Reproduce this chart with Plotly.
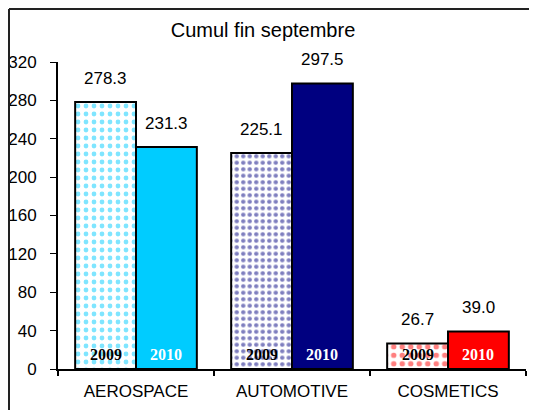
import plotly.graph_objects as go

categories = ["AEROSPACE", "AUTOMOTIVE", "COSMETICS"]
values_2009 = [278.3, 225.1, 26.7]
values_2010 = [231.3, 297.5, 39.0]
series_names = ["2009", "2010"]
colors = ["#00CCFF", "#000080", "#FF0000"]
title_text = "Cumul fin septembre"
y_ticks = [0, 40, 80, 120, 160, 200, 240, 280, 320]

W, H = 521, 402
L, R, T, B = 50, 3, 54, 41
PW, PH = W - L - R, H - T - B

fig = go.Figure()
fig.add_trace(go.Bar(
    x=categories, y=values_2009, name=series_names[0],
    marker=dict(color="white",
                line=dict(color="black", width=2),
                pattern=dict(shape=".", fgcolor=colors, bgcolor="white",
                             size=[8, 6.5, 8.5], solidity=[0.28, 0.36, 0.32],
                             fillmode="overlay")),
    offsetgroup="a", showlegend=False, hoverinfo="skip",
))
fig.add_trace(go.Bar(
    x=categories, y=values_2010, name=series_names[1],
    marker=dict(color=colors, line=dict(color="black", width=2)),
    offsetgroup="b", showlegend=False, hoverinfo="skip",
))

for i, c in enumerate(categories):
    for j, (vals, xs) in enumerate([(values_2009, -0.195), (values_2010, 0.195)]):
        fig.add_annotation(x=i + xs, y=vals[i], xref="x", yref="y",
                           text=f"{vals[i]:.1f}", showarrow=False,
                           yanchor="middle", yshift=24,
                           font=dict(family="Arial, Liberation Sans", size=17, color="black"))
        fig.add_annotation(x=i + xs, y=0, xref="x", yref="y",
                           text=f"<b>{series_names[j]}</b>", showarrow=False,
                           yanchor="middle", yshift=15,
                           font=dict(family="Times New Roman, Liberation Serif", size=16,
                                     color="black" if j == 0 else "white"))

fig.update_layout(
    width=W, height=H,
    margin=dict(l=L, r=R, t=T, b=B, pad=0),
    paper_bgcolor="white", plot_bgcolor="white",
    barmode="group", bargap=0.22, bargroupgap=0,
    title=dict(text=title_text, xref="paper", x=(255 - L) / PW, xanchor="center",
               yref="container", y=1 - 22 / H, yanchor="middle",
               font=dict(family="Arial, Liberation Sans", size=20, color="black")),
    font=dict(family="Arial, Liberation Sans", color="black"),
    xaxis=dict(type="category", showgrid=False, showline=True, linecolor="black", linewidth=2,
               ticks="outside", tickson="boundaries", ticklen=5, tickwidth=2, tickcolor="black",
               ticklabelstandoff=6, automargin=False,
               tickfont=dict(size=17, family="Arial, Liberation Sans")),
    yaxis=dict(range=[0, 320], tickvals=y_ticks, showgrid=False, showline=True,
               linecolor="black", linewidth=2, ticks="outside", ticklen=6, tickwidth=1,
               tickcolor="black", zeroline=False, ticklabelstandoff=10, automargin=False,
               tickfont=dict(size=17, family="Arial, Liberation Sans")),
    shapes=[
        dict(type="line", xref="paper", yref="paper", x0=-(L - 1) / PW, x1=-(L - 1) / PW,
             y0=(T - 1 + PH) / PH, y1=-B / PH - 0.01, line=dict(color="#222222", width=2)),
        dict(type="line", xref="paper", yref="paper", x0=-(L - 1) / PW, x1=(W - L) / PW + 0.01,
             y0=(T - 1 + PH) / PH, y1=(T - 1 + PH) / PH, line=dict(color="#222222", width=2)),
    ],
)
fig.update_xaxes(range=[-0.5, 2.5])

fig.write_html("out.html")
